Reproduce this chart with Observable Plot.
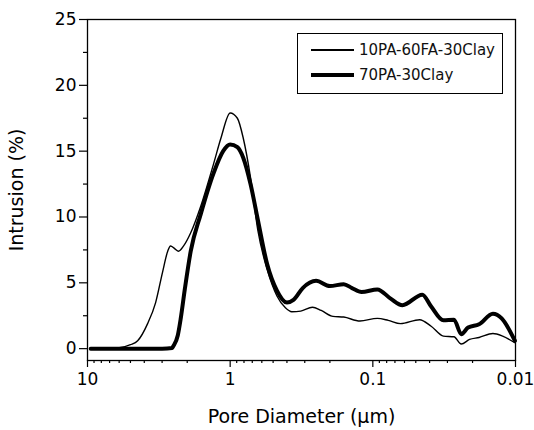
<!DOCTYPE html>
<html>
<head>
<meta charset="utf-8">
<script src="https://cdn.jsdelivr.net/npm/d3@7"></script>
<script src="https://cdn.jsdelivr.net/npm/@observablehq/plot@0.6"></script>
<style>
  html, body { margin: 0; padding: 0; background: #fff; }
  #wrap { position: relative; width: 534px; height: 430px; font-family: "DejaVu Sans", sans-serif; }
  #legend { position: absolute; left: 297px; top: 33px; width: 206px; height: 61px; border: 1.3px solid #000; box-sizing: border-box; background: #fff; }
  .swatch { position: absolute; left: 13px; width: 43px; background: #000; }
  .lab { position: absolute; left: 61px; font-size: 15px; white-space: nowrap; color: #111; line-height: 20px; }
</style>
</head>
<body>
<div id="wrap">
  <div id="chart"></div>
  <div id="legend"></div>
</div>
<script>
// Series names
const seriesNames = ["10PA-60FA-30Clay", "70PA-30Clay"];

// 10PA-60FA-30Clay (thin line): pore diameter (µm) and intrusion (%)
const thinD = [9.5, 8, 6, 5, 4.45, 3.79, 3.33, 2.98, 2.74, 2.62, 2.45, 2.30, 2.12, 1.89, 1.61, 1.31, 1.16, 1.0, 0.89, 0.81, 0.72, 0.64, 0.55, 0.47, 0.41, 0.37, 0.32, 0.265, 0.23, 0.19, 0.16, 0.123, 0.093, 0.078, 0.064, 0.047, 0.039, 0.032, 0.027, 0.024, 0.021, 0.018, 0.0144, 0.0123, 0.0101];
const thinY = [0, 0.02, 0.08, 0.3, 0.6, 1.9, 3.5, 5.8, 7.4, 7.8, 7.6, 7.4, 7.8, 8.8, 10.8, 14.0, 16.0, 17.9, 17.5, 16.0, 13.0, 9.0, 6.0, 4.0, 3.1, 2.8, 2.85, 3.15, 2.9, 2.45, 2.4, 2.1, 2.3, 2.15, 1.9, 2.2, 1.7, 0.95, 0.9, 0.35, 0.7, 0.85, 1.15, 0.95, 0.45];

// 70PA-30Clay (thick line)
const thickD = [9.5, 8, 6, 4, 3, 2.55, 2.5, 2.33, 2.22, 2.08, 1.89, 1.61, 1.31, 1.12, 1.0, 0.89, 0.81, 0.72, 0.64, 0.55, 0.47, 0.40, 0.36, 0.31, 0.25, 0.2, 0.16, 0.14, 0.12, 0.093, 0.075, 0.062, 0.045, 0.039, 0.032, 0.027, 0.024, 0.0215, 0.018, 0.0144, 0.0125, 0.0101];
const thickY = [0, 0, 0, 0, 0, 0.05, 0.2, 1.0, 2.3, 4.5, 7.4, 10.2, 13.3, 15.0, 15.5, 15.3, 14.5, 12.5, 9.8, 6.4, 4.4, 3.5, 3.7, 4.6, 5.15, 4.75, 4.9, 4.6, 4.3, 4.5, 3.8, 3.3, 4.1, 3.2, 2.15, 2.2, 1.1, 1.6, 1.85, 2.65, 2.3, 0.6];

// Axis ticks
const xMajor = [10, 1, 0.1, 0.01];
const xMinor = [9,8,7,6,5,4,3,2, 0.9,0.8,0.7,0.6,0.5,0.4,0.3,0.2, 0.09,0.08,0.07,0.06,0.05,0.04,0.03,0.02];
const yMajor = [0, 5, 10, 15, 20, 25];
const yMinor = [2.5, 7.5, 12.5, 17.5, 22.5];

const thin = thinD.map((d, i) => ({d, y: thinY[i]}));
const thick = thickD.map((d, i) => ({d, y: thickY[i]}));

const chart = Plot.plot({
  width: 534,
  height: 430,
  marginLeft: 87,
  marginRight: 19,
  marginTop: 19,
  marginBottom: 70,
  style: { fontFamily: "DejaVu Sans, sans-serif", background: "#fff", color: "#000", overflow: "visible" },
  x: { type: "log", domain: [10, 0.01] },
  y: { domain: [-0.9, 25] },
  marks: [
    Plot.frame({ stroke: "#000", strokeWidth: 1.3 }),
    Plot.axisX({ ticks: xMinor, tickSize: 3, tickFormat: () => "", label: null, strokeWidth: 1.2 }),
    Plot.axisX({ ticks: xMajor, tickSize: 7, tickPadding: 5, tickFormat: d => String(d), fontSize: 17,
                 label: "Pore Diameter (μm)", labelAnchor: "center", labelArrow: "none", labelOffset: 62, strokeWidth: 1.2 }),
    Plot.axisY({ ticks: yMinor, tickSize: 4, tickFormat: () => "", label: null, strokeWidth: 1.2 }),
    Plot.axisY({ ticks: yMajor, tickSize: 8, tickPadding: 3, fontSize: 17,
                 label: "Intrusion (%)", labelAnchor: "center", labelArrow: "none", labelOffset: 78, strokeWidth: 1.2 }),
    Plot.line(thin, { x: "d", y: "y", stroke: "#000", strokeWidth: 1.4, curve: "monotone-x" }),
    Plot.line(thick, { x: "d", y: "y", stroke: "#000", strokeWidth: 4, curve: "monotone-x" })
  ]
});
chart.querySelectorAll("g[aria-label='x-axis label'], g[aria-label='y-axis label']").forEach(g => {
  g.setAttribute("font-size", "19");
  g.querySelectorAll("text").forEach(t => t.setAttribute("font-size", "19"));
});
document.getElementById("chart").appendChild(chart);

// Legend (HTML, real text)
const legend = document.getElementById("legend");
const widths = [1.4, 4];
seriesNames.forEach((name, i) => {
  const top = 6 + i * 25;
  const sw = document.createElement("div");
  sw.className = "swatch";
  sw.style.top = (top + 10 - widths[i] / 2) + "px";
  sw.style.height = widths[i] + "px";
  legend.appendChild(sw);
  const lab = document.createElement("div");
  lab.className = "lab";
  lab.style.top = top + "px";
  lab.textContent = name;
  legend.appendChild(lab);
});
</script>
</body>
</html>
